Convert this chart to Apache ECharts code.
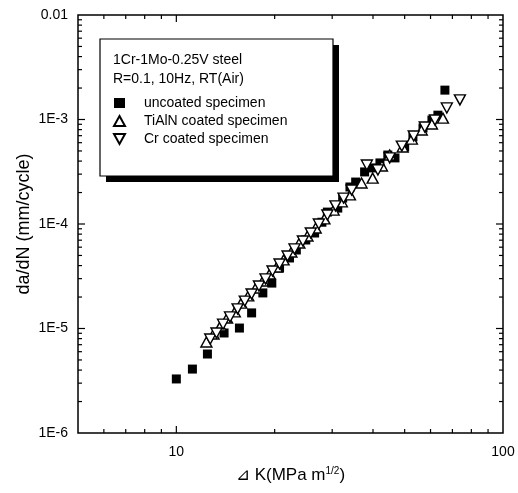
<!DOCTYPE html>
<html>
<head>
<meta charset="utf-8">
<script src="https://cdn.jsdelivr.net/npm/echarts@6/dist/echarts.min.js"></script>
<style>html,body{margin:0;padding:0;background:#fff}#c{width:518px;height:493px}</style>
</head>
<body>
<div id="c"></div>
<script>
// ---- data (ΔK in MPa·m^1/2, da/dN in mm/cycle) ----
const uncoatedK    = [10.0, 11.2, 12.45, 14.0, 15.6, 17.0, 18.4, 19.6, 20.7, 22.2, 23.3, 24.9, 26.5, 27.9, 29.0, 31.2, 32.3, 34.0, 35.4, 37.7, 39.9, 42.0, 44.4, 46.7, 50.0, 53.0, 56.9, 60.6, 63.2, 66.4];
const uncoatedRate = [3.29e-6, 4.09e-6, 5.70e-6, 9.06e-6, 1.01e-5, 1.41e-5, 2.19e-5, 2.72e-5, 3.79e-5, 4.73e-5, 5.64e-5, 7.03e-5, 8.20e-5, 1.04e-4, 1.30e-4, 1.42e-4, 1.77e-4, 2.26e-4, 2.52e-4, 3.15e-4, 3.44e-4, 3.84e-4, 4.57e-4, 4.29e-4, 5.46e-4, 6.81e-4, 8.30e-4, 9.89e-4, 1.10e-3, 1.91e-3];

const tialnK    = [12.36, 13.0, 13.65, 14.3, 15.1, 15.8, 16.6, 17.5, 18.4, 19.3, 20.3, 21.3, 22.5, 23.8, 25.2, 26.7, 28.4, 30.3, 32.1, 34.0, 36.9, 39.9, 42.6, 45.0, 49.3, 52.6, 56.4, 60.6, 65.5];
const tialnRate = [7.43e-6, 8.86e-6, 1.06e-5, 1.26e-5, 1.44e-5, 1.75e-5, 2.05e-5, 2.44e-5, 2.85e-5, 3.33e-5, 3.88e-5, 4.53e-5, 5.40e-5, 6.58e-5, 7.67e-5, 9.16e-5, 1.12e-4, 1.36e-4, 1.63e-4, 1.90e-4, 2.47e-4, 2.75e-4, 3.59e-4, 4.57e-4, 5.46e-4, 6.50e-4, 7.94e-4, 9.06e-4, 1.03e-3];

const crK    = [12.7, 13.27, 13.9, 14.6, 15.4, 16.2, 17.0, 17.9, 18.75, 19.7, 20.7, 21.9, 23.0, 24.4, 25.8, 27.3, 29.0, 30.7, 32.5, 34.4, 38.3, 41.4, 45.0, 49.0, 53.3, 57.6, 61.9, 67.3, 73.8];
const crRate = [7.94e-6, 9.06e-6, 1.10e-5, 1.29e-5, 1.54e-5, 1.83e-5, 2.14e-5, 2.55e-5, 2.98e-5, 3.55e-5, 4.14e-5, 4.94e-5, 5.77e-5, 6.87e-5, 8.20e-5, 1.00e-4, 1.22e-4, 1.49e-4, 1.77e-4, 2.11e-4, 3.67e-4, 3.29e-4, 4.29e-4, 5.57e-4, 6.95e-4, 8.47e-4, 9.89e-4, 1.29e-3, 1.54e-3];

const seriesNames = ['uncoated specimen', 'TiAlN coated specimen', 'Cr coated specimen'];
const noteLines = ['1Cr-1Mo-0.25V steel', 'R=0.1, 10Hz, RT(Air)'];

// ---- axis ranges and tick values ----
const X_MIN = 5, X_MAX = 100, Y_MIN = 1e-6, Y_MAX = 0.01;
const xMajorTicks = [10];
const xMinorTicks = [6, 7, 8, 9, 20, 30, 40, 50, 60, 70, 80, 90];
const yMajorTicks = [1e-5, 1e-4, 1e-3];
const yDecades = [1e-6, 1e-5, 1e-4, 1e-3];
const yMantissas = [2, 3, 4, 5, 6, 7, 8, 9];

const FONT = '"Liberation Sans", Arial, Helvetica, sans-serif';

const pairs = (a, b) => a.map((v, i) => [v, b[i]]);
const yMinorTicks = [];
yDecades.forEach(d => yMantissas.forEach(m => yMinorTicks.push(+(m * d).toPrecision(3))));

// tick descriptors: {v, axis:'x'|'y', major}
const tickList = [];
xMajorTicks.forEach(v => tickList.push({ v: v, axis: 'x', major: true }));
xMinorTicks.forEach(v => tickList.push({ v: v, axis: 'x', major: false }));
yMajorTicks.forEach(v => tickList.push({ v: v, axis: 'y', major: true }));
yMinorTicks.forEach(v => tickList.push({ v: v, axis: 'y', major: false }));
const tickData = tickList.map(t => t.axis === 'x' ? [t.v, Y_MIN * 10] : [X_MIN * 2, t.v]);

function tickRender(params, api) {
  const t = tickList[params.dataIndex];
  const len = t.major ? 7 : 4;
  const st = { stroke: '#000', lineWidth: 1.2 };
  let a, b, s1, s2;
  if (t.axis === 'x') {
    a = api.coord([t.v, Y_MIN]); b = api.coord([t.v, Y_MAX]);
    s1 = { x1: a[0], y1: a[1], x2: a[0], y2: a[1] - len };
    s2 = { x1: b[0], y1: b[1], x2: b[0], y2: b[1] + len };
  } else {
    a = api.coord([X_MIN, t.v]); b = api.coord([X_MAX, t.v]);
    s1 = { x1: a[0], y1: a[1], x2: a[0] + len, y2: a[1] };
    s2 = { x1: b[0], y1: b[1], x2: b[0] - len, y2: b[1] };
  }
  return { type: 'group', children: [
    { type: 'line', shape: s1, style: st },
    { type: 'line', shape: s2, style: st }
  ]};
}

const chart = echarts.init(document.getElementById('c'), null, { renderer: 'canvas' });
const openStyle = { color: '#fff', borderColor: '#000', borderWidth: 1.4, opacity: 1 };

chart.setOption({
  animation: false,
  backgroundColor: '#fff',
  textStyle: { fontFamily: FONT, color: '#000' },
  grid: { left: 78, right: 15, top: 15, bottom: 60, show: true, borderColor: '#000', borderWidth: 1.5, backgroundColor: 'transparent' },
  xAxis: {
    type: 'log', logBase: 10, min: X_MIN, max: X_MAX,
    axisLine: { show: false }, axisTick: { show: false }, splitLine: { show: false }, minorTick: { show: false },
    axisLabel: { fontSize: 14, color: '#000', fontFamily: FONT, margin: 12, showMinLabel: false,
      formatter: v => String(Math.round(v)) },
    name: '{a|⊿ K(MPa m}{s|1/2}{a|)}',
    nameLocation: 'middle', nameGap: 33, nameMoveOverlap: false,
    nameTextStyle: { rich: {
      a: { fontSize: 17, fontFamily: FONT, color: '#000' },
      s: { fontSize: 10, fontFamily: FONT, color: '#000', verticalAlign: 'top', padding: [0, 0, 8, 0] }
    } }
  },
  yAxis: {
    type: 'log', logBase: 10, min: Y_MIN, max: Y_MAX,
    axisLine: { show: false }, axisTick: { show: false }, splitLine: { show: false }, minorTick: { show: false },
    axisLabel: { fontSize: 14, color: '#000', fontFamily: FONT, margin: 10,
      formatter: v => { const e = Math.round(Math.log10(v)); return e === -2 ? '0.01' : '1E' + e; } },
    name: 'da/dN (mm/cycle)', nameLocation: 'middle', nameGap: 45, nameMoveOverlap: false,
    nameTextStyle: { fontSize: 18, fontFamily: FONT, color: '#000' }
  },
  legend: {
    data: seriesNames, orient: 'vertical', left: 108, top: 91, z: 20,
    itemWidth: 11, itemHeight: 10, itemGap: 4,
    textStyle: { fontSize: 14, fontFamily: FONT, color: '#000', lineHeight: 14, padding: [0, 0, 0, 14] },
    selectedMode: false
  },
  graphic: [
    { type: 'rect', z: 5, shape: { x: 106, y: 45, width: 233, height: 137 }, style: { fill: '#000' } },
    { type: 'rect', z: 6, shape: { x: 100, y: 39, width: 233, height: 137 }, style: { fill: '#fff', stroke: '#000', lineWidth: 1.2 } },
    { type: 'text', z: 7, left: 113, top: 53, style: { text: noteLines[0], font: '14px ' + FONT, fill: '#000' } },
    { type: 'text', z: 7, left: 113, top: 72, style: { text: noteLines[1], font: '14px ' + FONT, fill: '#000' } }
  ],
  series: [
    { type: 'custom', name: 'ticks', data: tickData, renderItem: tickRender, clip: false, silent: true,
      encode: { x: 0, y: 1 }, z: 10 },
    { type: 'scatter', name: seriesNames[0], data: pairs(uncoatedK, uncoatedRate), symbol: 'rect', symbolSize: 9,
      itemStyle: { color: '#000', borderColor: '#000', borderWidth: 0, opacity: 1 }, z: 3 },
    { type: 'scatter', name: seriesNames[1], data: pairs(tialnK, tialnRate), symbol: 'triangle', symbolSize: [11, 10],
      itemStyle: openStyle, z: 4 },
    { type: 'scatter', name: seriesNames[2], data: pairs(crK, crRate), symbol: 'path://M0,0L10,0L5,9Z', symbolSize: [11, 10],
      itemStyle: openStyle, z: 4 }
  ]
});
</script>
</body>
</html>
